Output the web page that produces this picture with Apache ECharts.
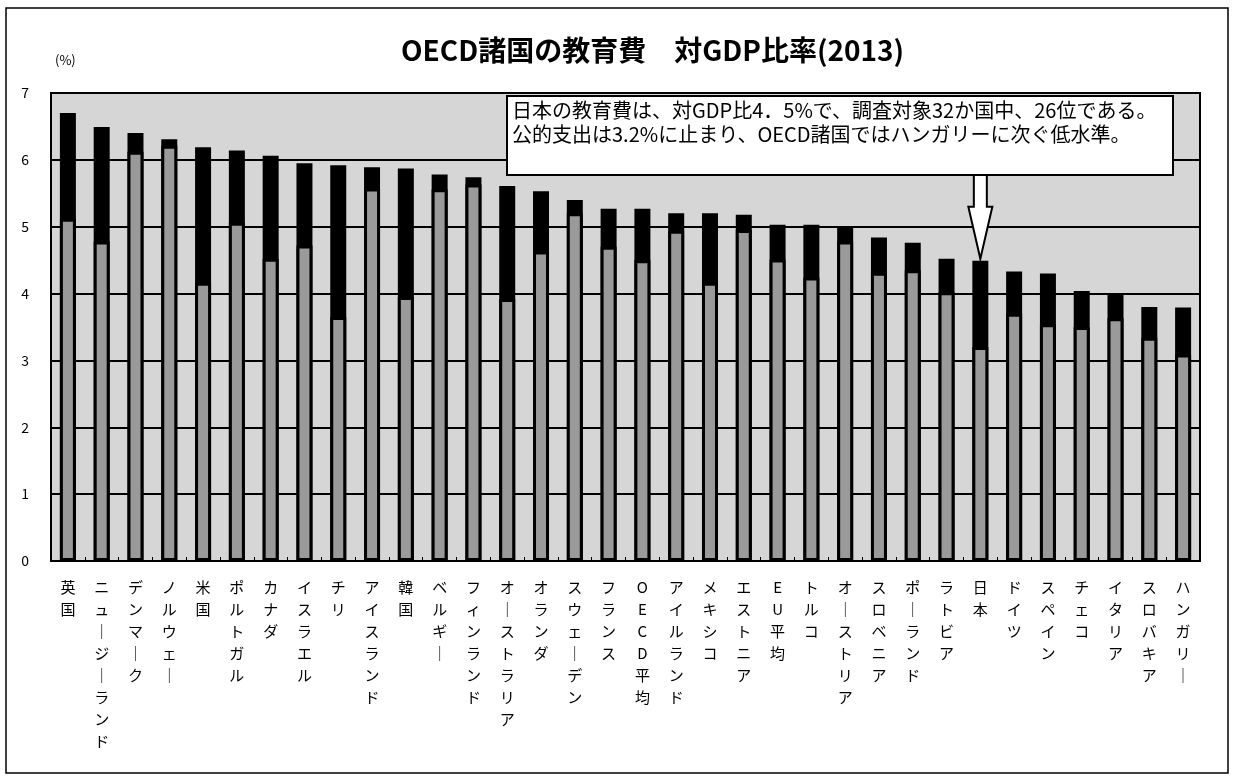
<!DOCTYPE html>
<html>
<head>
<meta charset="utf-8">
<script src="https://cdn.jsdelivr.net/npm/echarts@6/dist/echarts.min.js"></script>
<style>
html,body{margin:0;padding:0;background:#fff;}
#chart{width:1234px;height:776px;}
</style>
</head>
<body>
<div id="chart"></div>
<script>
// ---- data ----
var categories = ['英国','ニュージーランド','デンマーク','ノルウェー','米国','ポルトガル','カナダ','イスラエル','チリ','アイスランド','韓国','ベルギー','フィンランド','オーストラリア','オランダ','スウェーデン','フランス','OECD平均','アイルランド','メキシコ','エストニア','EU平均','トルコ','オーストリア','スロベニア','ポーランド','ラトビア','日本','ドイツ','スペイン','チェコ','イタリア','スロバキア','ハンガリー'];
// total education expenditure (% of GDP) - black bar
var totalValues = [6.70,6.49,6.40,6.31,6.19,6.14,6.06,5.95,5.92,5.89,5.87,5.78,5.74,5.61,5.53,5.40,5.27,5.27,5.20,5.20,5.18,5.03,5.03,4.99,4.84,4.76,4.52,4.49,4.33,4.30,4.04,3.99,3.80,3.79];
// public expenditure (% of GDP) - grey bar
var publicValues = [5.12,4.78,6.12,6.21,4.16,5.06,4.52,4.72,3.65,5.57,3.95,5.56,5.63,3.92,4.63,5.20,4.70,4.50,4.94,4.16,4.95,4.51,4.24,4.78,4.31,4.35,4.02,3.20,3.70,3.54,3.50,3.63,3.34,3.09];
var yTicks = [0,1,2,3,4,5,6,7];
var titleText = 'OECD諸国の教育費　対GDP比率(2013)';
var unitText = '(%)';
var noteLines = ['日本の教育費は、対GDP比4．5%で、調査対象32か国中、26位である。','公的支出は3.2%に止まり、OECD諸国ではハンガリーに次ぐ低水準。'];
var highlightCategory = '日本';

var FONT = '"Noto Sans CJK JP", "Noto Sans", sans-serif';
var chart = echarts.init(document.getElementById('chart'), null, {renderer:'canvas'});

var option = {
  backgroundColor: '#ffffff',
  animation: false,
  title: {
    text: titleText,
    left: 396, top: 31,
    textStyle: {fontFamily: FONT, fontSize: 28, fontWeight: 'bold', color: '#000'}
  },
  grid: {
    left: 51, right: 34, top: 93, bottom: 215,
    show: true, backgroundColor: '#d6d6d6', borderColor: '#000', borderWidth: 2
  },
  xAxis: {
    type: 'category',
    data: categories,
    axisLine: {lineStyle: {color: '#000', width: 2}},
    axisTick: {show: true, inside: true, length: 4, lineStyle: {color: '#000'}},
    axisLabel: {
      interval: 0, margin: 15, color: '#000',
      fontFamily: FONT, fontSize: 15, lineHeight: 22,
      verticalAlign: 'top',
      formatter: function (v) {
        return v.split('').map(function (c) { return c === 'ー' ? '｜' : c; }).join('\n');
      }
    }
  },
  yAxis: {
    type: 'value', min: yTicks[0], max: yTicks[yTicks.length-1], interval: 1,
    name: unitText, nameLocation: 'end', nameGap: 26,
    nameTextStyle: {fontFamily: FONT, fontSize: 13, color: '#000', align: 'left', padding: [0,0,0,4]},
    axisLine: {show: true, lineStyle: {color: '#000', width: 2}},
    axisTick: {show: false},
    axisLabel: {margin: 22, color: '#000', fontFamily: FONT, fontSize: 14},
    splitLine: {show: true, lineStyle: {color: '#000', width: 2}}
  },
  series: [
    {
      name: '教育費合計', type: 'bar', data: totalValues,
      barWidth: 16, barGap: '-100%',
      itemStyle: {color: '#000'}
    },
    {
      name: '公的支出', type: 'bar', data: publicValues,
      barWidth: 16,
      itemStyle: {color: '#9a9a9a', borderColor: '#000', borderWidth: 3}
    }
  ]
};
chart.setOption(option);

// ---- annotation: note box + arrow pointing at Japan ----
var jIdx = categories.indexOf(highlightCategory);
var tip = chart.convertToPixel({gridIndex: 0}, [jIdx, totalValues[jIdx]]);
var boxL = 507, boxT = 96, boxR = 1173, boxB = 175;
var ax = tip[0], ay = tip[1] - 2;
var shaftHW = 6.5, headHW = 12, headTop = ay - 52;
chart.setOption({
  graphic: [
    {type: 'rect', shape: {x: 6, y: 8, width: 1222, height: 765}, style: {fill: 'none', stroke: '#000', lineWidth: 1.5}, silent: true, z: 100},
    {type: 'rect', shape: {x: boxL, y: boxT, width: boxR - boxL, height: boxB - boxT}, style: {fill: '#fff', stroke: '#000', lineWidth: 2}, z: 100},
    {type: 'text', left: boxL + 5, top: boxT + 2, z: 101,
      style: {text: noteLines.join('\n'), fontFamily: FONT, fontSize: 20, lineHeight: 24, fill: '#000'}},
    {type: 'polygon', z: 101,
      shape: {points: [[ax - shaftHW, boxB], [ax + shaftHW, boxB], [ax + shaftHW, headTop], [ax + headHW, headTop], [ax, ay], [ax - headHW, headTop], [ax - shaftHW, headTop]]},
      style: {fill: '#fff', stroke: '#000', lineWidth: 2}}
  ]
});
</script>
</body>
</html>
